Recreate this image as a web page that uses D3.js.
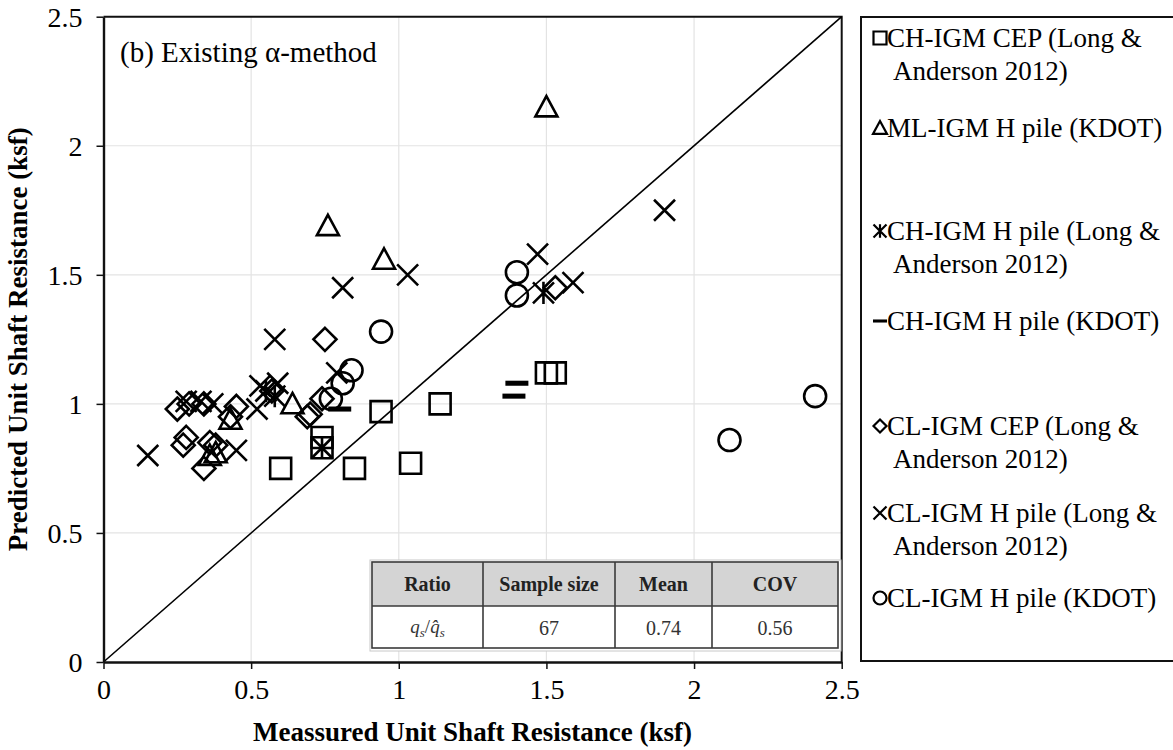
<!DOCTYPE html>
<html>
<head>
<meta charset="utf-8">
<script src="https://cdn.jsdelivr.net/npm/d3@7"></script>
<style>
  html, body { margin: 0; padding: 0; background: #fff; }
  svg { display: block; font-family: "Liberation Serif", "Times New Roman", serif; }
</style>
</head>
<body>
<svg id="chart" width="1173" height="750"></svg>
<script>
// ---- data: [measured, predicted] unit shaft resistance (ksf) ----
const chCepLA   = [[0.60,0.75],[0.85,0.75],[1.04,0.77],[0.94,0.97],[1.14,1.00],[1.50,1.12],[1.53,1.12],[0.74,0.87],[0.74,0.83]];
const mlHKdot   = [[1.50,2.15],[0.76,1.69],[0.95,1.56],[0.64,1.00],[0.43,0.94],[0.36,0.80],[0.38,0.81]];
const chHLA     = [[0.74,0.83],[1.49,1.43],[0.55,1.05],[0.58,1.03]];
const chHKdot   = [[0.80,0.98],[1.40,1.08],[1.39,1.03]];
const clCepLA   = [[0.25,0.98],[0.29,1.00],[0.34,1.00],[0.45,0.99],[0.43,0.95],[0.28,0.87],[0.27,0.84],
                   [0.36,0.85],[0.38,0.84],[0.34,0.75],[0.57,1.05],[0.69,0.95],[0.70,0.96],[0.74,1.02],
                   [0.75,1.25],[1.53,1.45]];
const clHLA     = [[0.15,0.80],[0.28,1.01],[0.33,1.01],[0.37,1.00],[0.45,0.82],[0.52,0.98],[0.53,1.07],
                   [0.59,1.08],[0.58,1.25],[0.79,1.12],[0.81,1.45],[1.03,1.50],[1.47,1.58],[1.59,1.47],
                   [1.90,1.75]];
const clHKdot   = [[0.77,1.02],[0.81,1.08],[0.84,1.13],[0.94,1.28],[1.40,1.51],[1.40,1.42],[2.12,0.86],[2.41,1.03]];

const seriesNames = [
  ["CH-IGM CEP (Long &", "Anderson 2012)"],
  ["ML-IGM H pile (KDOT)"],
  ["CH-IGM H pile (Long &", "Anderson 2012)"],
  ["CH-IGM H pile (KDOT)"],
  ["CL-IGM CEP (Long &", "Anderson 2012)"],
  ["CL-IGM H pile (Long &", "Anderson 2012)"],
  ["CL-IGM H pile (KDOT)"]
];
const seriesShapes = ["square", "triangle", "asterisk", "bar", "diamond", "times", "circle"];
const seriesData = [chCepLA, mlHKdot, chHLA, chHKdot, clCepLA, clHLA, clHKdot];

const axisTicks = [0, 0.5, 1, 1.5, 2, 2.5];
const tableHeaders = ["Ratio", "Sample size", "Mean", "COV"];
const tableValues  = ["", "67", "0.74", "0.56"];
const panelTitle = "(b) Existing \u03b1-method";
const xTitle = "Meassured Unit Shaft Resistance (ksf)";
const yTitle = "Predicted Unit Shaft Resistance  (ksf)";

// ---- layout ----
const svg = d3.select("#chart");
const plot = { left: 103.5, top: 16.7, right: 841.7, bottom: 662 };
const x = d3.scaleLinear().domain([0, 2.5]).range([plot.left, plot.right]);
const y = d3.scaleLinear().domain([0, 2.5]).range([plot.bottom, plot.top]);

// grid
const grid = svg.append("g").attr("stroke", "#e3e3e3").attr("stroke-width", 1.2);
grid.selectAll("line.v").data(axisTicks.slice(1, -1)).join("line")
  .attr("x1", d => x(d)).attr("x2", d => x(d)).attr("y1", plot.top).attr("y2", plot.bottom);
grid.selectAll("line.h").data(axisTicks.slice(1, -1)).join("line")
  .attr("y1", d => y(d)).attr("y2", d => y(d)).attr("x1", plot.left).attr("x2", plot.right);

// top and right frame
svg.append("path")
  .attr("d", `M${plot.left},${plot.top}H${plot.right}V${plot.bottom}`)
  .attr("fill", "none").attr("stroke", "#111").attr("stroke-width", 2);

// 1:1 line
svg.append("line")
  .attr("x1", x(0)).attr("y1", y(0)).attr("x2", x(2.5)).attr("y2", y(2.5))
  .attr("stroke", "#000").attr("stroke-width", 1.6);

// ---- marker shapes ----
function shapePath(type, s) {
  // s = half size
  switch (type) {
    case "square":   return `M${-s},${-s}H${s}V${s}H${-s}Z`;
    case "diamond":  return `M0,${-s}L${s},0L0,${s}L${-s},0Z`;
    case "triangle": return `M0,${-s}L${s},${s * 0.85}L${-s},${s * 0.85}Z`;
    case "circle":   return `M${s},0A${s},${s} 0 1,1 ${-s},0A${s},${s} 0 1,1 ${s},0Z`;
    case "times":    return `M${-s},${-s}L${s},${s}M${s},${-s}L${-s},${s}`;
    case "asterisk": return `M${-s},${-s}L${s},${s}M${s},${-s}L${-s},${s}M0,${-s * 1.05}V${s * 1.05}`;
    case "bar":      return `M${-s},${-s * 0.22}H${s}V${s * 0.22}H${-s}Z`;
  }
}
const markerHalf = { square: 10.5, diamond: 11.5, triangle: 11, circle: 11, times: 10.5, asterisk: 10.5, bar: 11.5 };

const marks = svg.append("g");
seriesData.forEach((data, i) => {
  const type = seriesShapes[i];
  marks.append("g").selectAll("path").data(data).join("path")
    .attr("transform", d => `translate(${x(d[0])},${y(d[1])})`)
    .attr("d", shapePath(type, markerHalf[type]))
    .attr("fill", type === "bar" ? "#000" : "none")
    .attr("stroke", "#000")
    .attr("stroke-width", type === "bar" ? 0 : 2.6)
    .attr("stroke-linejoin", "miter");
});

// ---- axes ----
const fmt = d => String(d);
const xAxis = svg.append("g").attr("transform", `translate(0,${plot.bottom})`)
  .call(d3.axisBottom(x).tickValues(axisTicks).tickFormat(fmt).tickSizeInner(7).tickSizeOuter(0).tickPadding(10));
const yAxis = svg.append("g").attr("transform", `translate(${plot.left},0)`)
  .call(d3.axisLeft(y).tickValues(axisTicks).tickFormat(fmt).tickSizeInner(7).tickSizeOuter(0).tickPadding(14));
[xAxis, yAxis].forEach(g => {
  g.select(".domain").attr("stroke", "#111").attr("stroke-width", 2.4);
  g.selectAll(".tick line").attr("stroke", "#111").attr("stroke-width", 1.5);
  g.selectAll(".tick text").attr("fill", "#000")
    .style("font-family", "'Liberation Serif', serif").style("font-size", "28px");
});
yAxis.selectAll(".tick text").attr("dy", "0.34em");

// axis titles
svg.append("text")
  .attr("x", (plot.left + plot.right) / 2).attr("y", 741)
  .attr("text-anchor", "middle").attr("font-weight", "bold").attr("font-size", 27)
  .text(xTitle);
svg.append("text")
  .attr("transform", `translate(27,${(plot.top + plot.bottom) / 2}) rotate(-90)`)
  .attr("text-anchor", "middle").attr("font-weight", "bold").attr("font-size", 27)
  .text(yTitle);

// panel title
svg.append("text").attr("x", 120).attr("y", 62).attr("font-size", 29).text(panelTitle);

// ---- statistics table ----
const colEdges = [372, 483, 615, 712, 838];
const tTop = 562, tMid = 606, tBot = 648;
const table = svg.append("g");
table.append("rect").attr("x", colEdges[0] - 2).attr("y", tTop - 2)
  .attr("width", colEdges[4] - colEdges[0] + 5).attr("height", tBot - tTop + 5)
  .attr("fill", "#fff").attr("stroke", "#c8c8c8").attr("stroke-width", 1);
table.append("rect").attr("x", colEdges[0]).attr("y", tTop)
  .attr("width", colEdges[4] - colEdges[0]).attr("height", tMid - tTop)
  .attr("fill", "#d4d4d4");
table.append("rect").attr("x", colEdges[0]).attr("y", tTop)
  .attr("width", colEdges[4] - colEdges[0]).attr("height", tBot - tTop)
  .attr("fill", "none").attr("stroke", "#3a3a3a").attr("stroke-width", 1.6);
table.append("line").attr("x1", colEdges[0]).attr("x2", colEdges[4])
  .attr("y1", tMid).attr("y2", tMid).attr("stroke", "#3a3a3a").attr("stroke-width", 1.6);
table.selectAll("line.col").data(colEdges.slice(1, -1)).join("line")
  .attr("x1", d => d).attr("x2", d => d).attr("y1", tTop).attr("y2", tBot)
  .attr("stroke", "#3a3a3a").attr("stroke-width", 1.6);
const colMid = i => (colEdges[i] + colEdges[i + 1]) / 2;
table.selectAll("text.h").data(tableHeaders).join("text")
  .attr("x", (d, i) => colMid(i)).attr("y", tTop + 29)
  .attr("text-anchor", "middle").attr("font-weight", "bold").attr("font-size", 20)
  .attr("fill", "#222").text(d => d);
table.selectAll("text.v").data(tableValues).join("text")
  .attr("x", (d, i) => colMid(i)).attr("y", tMid + 29)
  .attr("text-anchor", "middle").attr("font-size", 20).attr("fill", "#333")
  .text(d => d);
// ratio q_s / q̂_s
const ratio = table.append("text").attr("x", colMid(0)).attr("y", tMid + 27)
  .attr("text-anchor", "middle").attr("font-size", 19).attr("fill", "#333");
ratio.append("tspan").attr("font-style", "italic").text("q");
ratio.append("tspan").attr("font-style", "italic").attr("font-size", 13).attr("dy", 4).text("s");
ratio.append("tspan").attr("dy", -4).text("/");
ratio.append("tspan").attr("font-style", "italic").text("q\u0302");
ratio.append("tspan").attr("font-style", "italic").attr("font-size", 13).attr("dy", 4).text("s");

// ---- legend ----
const legend = svg.append("g");
legend.append("rect").attr("x", 861).attr("y", 17).attr("width", 340).attr("height", 644)
  .attr("fill", "#fff").attr("stroke", "#111").attr("stroke-width", 2);
const legendBaselines = [47, 137, 240, 330, 435, 522, 607];
const legendHalf = { square: 6.5, diamond: 6.5, triangle: 7, circle: 6.5, times: 6.5, asterisk: 6.5, bar: 7 };
seriesNames.forEach((lines, i) => {
  const type = seriesShapes[i];
  const b = legendBaselines[i];
  legend.append("path")
    .attr("transform", `translate(880,${b - 9})`)
    .attr("d", shapePath(type, legendHalf[type]))
    .attr("fill", type === "bar" ? "#000" : "none")
    .attr("stroke", "#000").attr("stroke-width", type === "bar" ? 0 : 2.2);
  lines.forEach((t, k) => {
    legend.append("text").attr("x", k === 0 ? 887 : 893).attr("y", b + k * 33)
      .attr("font-size", 27).text(t);
  });
});
</script>
</body>
</html>
